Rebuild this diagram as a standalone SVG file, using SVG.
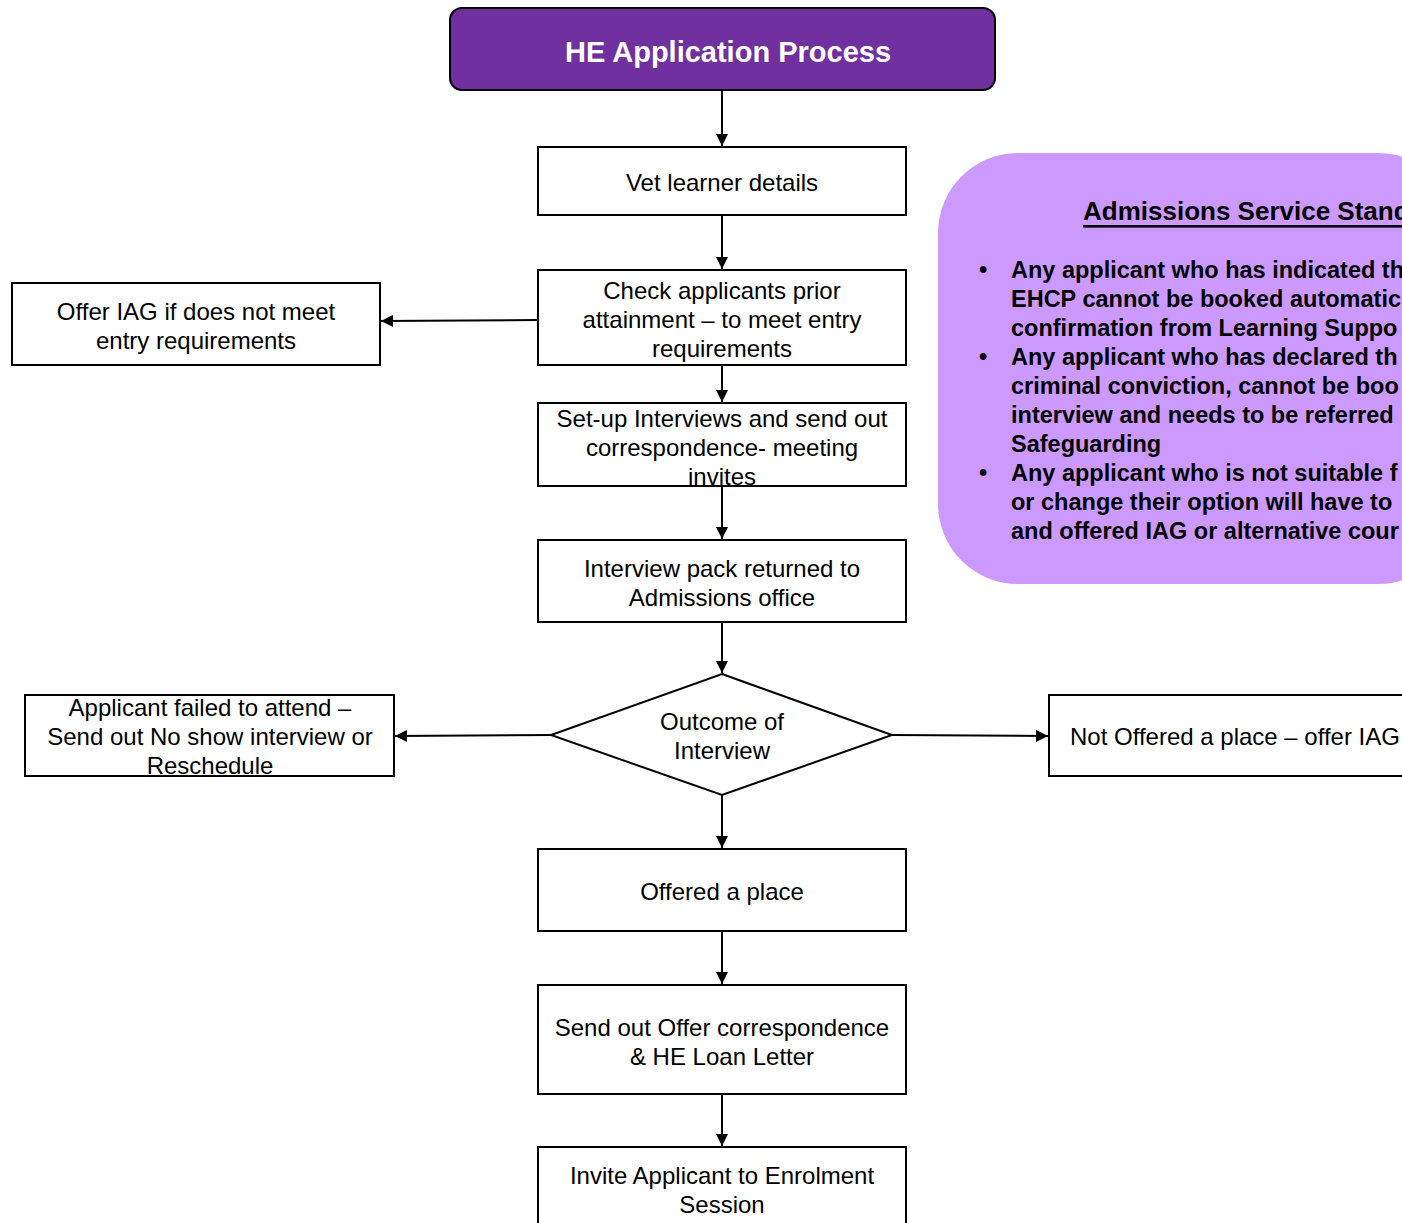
<svg xmlns="http://www.w3.org/2000/svg" width="1402" height="1223" viewBox="0 0 1402 1223">
<style>
.box{fill:#fff;stroke:#000;stroke-width:2}
.t{font-family:"Liberation Sans",Arial,sans-serif;font-size:24px;fill:#000;text-anchor:middle;dominant-baseline:central}
.b{font-family:"Liberation Sans",Arial,sans-serif;font-size:23.5px;font-weight:bold;fill:#000;dominant-baseline:central}
.c{stroke:#000;stroke-width:2;fill:none;marker-end:url(#ah)}
</style>
<defs>
<marker id="ah" viewBox="0 0 10 10" refX="10" refY="5" markerWidth="13" markerHeight="12" markerUnits="userSpaceOnUse" orient="auto">
<path d="M0,0 L10,5 L0,10 Z" fill="#000"/>
</marker>
</defs>
<rect width="1402" height="1223" fill="#fff"/>
<g id="title">
<rect x="450" y="8" width="545" height="82" rx="12" fill="#7030A0" stroke="#000" stroke-width="2"/>
<text x="728" y="52" class="t" style="font-size:29px;font-weight:bold;fill:#fff">HE Application Process</text>
</g>
<g id="standards">
<rect x="938" y="153" width="520" height="431" rx="80" fill="#CC99FF"/>
<text x="1083" y="211" class="b" style="font-size:26px;text-decoration:underline">Admissions Service Stand</text>
<text x="979" y="270" class="b">•</text>
<text x="1011" y="270" class="b">Any applicant who has indicated th</text>
<text x="1011" y="299" class="b">EHCP cannot be booked automatic</text>
<text x="1011" y="328" class="b">confirmation from Learning Suppo</text>
<text x="979" y="357" class="b">•</text>
<text x="1011" y="357" class="b">Any applicant who has declared th</text>
<text x="1011" y="386" class="b">criminal conviction, cannot be boo</text>
<text x="1011" y="415" class="b">interview and needs to be referred</text>
<text x="1011" y="444" class="b">Safeguarding</text>
<text x="979" y="473" class="b">•</text>
<text x="1011" y="473" class="b">Any applicant who is not suitable f</text>
<text x="1011" y="502" class="b">or change their option will have to</text>
<text x="1011" y="531" class="b">and offered IAG or alternative cour</text>
</g>
<g id="vet">
<rect class="box" x="538" y="147" width="368" height="68"/>
<text class="t" x="722" y="182">Vet learner details</text>
</g>
<g id="check">
<rect class="box" x="538" y="270" width="368" height="95"/>
<text class="t" x="722" y="290">Check applicants prior</text>
<text class="t" x="722" y="319">attainment – to meet entry</text>
<text class="t" x="722" y="348">requirements</text>
</g>
<g id="offeriag">
<rect class="box" x="12" y="283" width="368" height="82"/>
<text class="t" x="196" y="311">Offer IAG if does not meet</text>
<text class="t" x="196" y="340">entry requirements</text>
</g>
<g id="setup">
<rect class="box" x="538" y="403" width="368" height="83"/>
<text class="t" x="722" y="418">Set-up Interviews and send out</text>
<text class="t" x="722" y="447">correspondence- meeting</text>
<text class="t" x="722" y="476">invites</text>
</g>
<g id="pack">
<rect class="box" x="538" y="540" width="368" height="82"/>
<text class="t" x="722" y="568">Interview pack returned to</text>
<text class="t" x="722" y="597">Admissions office</text>
</g>
<g id="outcome">
<polygon points="722,674 892,735 722,795 551,735" fill="#fff" stroke="#000" stroke-width="2"/>
<text class="t" x="722" y="721">Outcome of</text>
<text class="t" x="722" y="750">Interview</text>
</g>
<g id="failed">
<rect class="box" x="25" y="695" width="369" height="81"/>
<text class="t" x="210" y="707">Applicant failed to attend –</text>
<text class="t" x="210" y="736">Send out No show interview or</text>
<text class="t" x="210" y="765">Reschedule</text>
</g>
<g id="notoffered">
<rect class="box" x="1049" y="695" width="380" height="81"/>
<text class="t" x="1070" y="736" style="text-anchor:start">Not Offered a place – offer IAG</text>
</g>
<g id="offered">
<rect class="box" x="538" y="849" width="368" height="82"/>
<text class="t" x="722" y="891">Offered a place</text>
</g>
<g id="sendout">
<rect class="box" x="538" y="985" width="368" height="109"/>
<text class="t" x="722" y="1027">Send out Offer correspondence</text>
<text class="t" x="722" y="1056">&amp; HE Loan Letter</text>
</g>
<g id="invite">
<rect class="box" x="538" y="1147" width="368" height="90"/>
<text class="t" x="722" y="1175">Invite Applicant to Enrolment</text>
<text class="t" x="722" y="1204">Session</text>
</g>
<g id="connectors">
<line class="c" x1="722" y1="90" x2="722" y2="146"/>
<line class="c" x1="722" y1="215" x2="722" y2="269"/>
<line class="c" x1="538" y1="320" x2="381" y2="321"/>
<line class="c" x1="722" y1="365" x2="722" y2="402"/>
<line class="c" x1="722" y1="486" x2="722" y2="539"/>
<line class="c" x1="722" y1="622" x2="722" y2="673"/>
<line class="c" x1="551" y1="735" x2="395" y2="736"/>
<line class="c" x1="892" y1="735" x2="1048" y2="736"/>
<line class="c" x1="722" y1="795" x2="722" y2="848"/>
<line class="c" x1="722" y1="931" x2="722" y2="984"/>
<line class="c" x1="722" y1="1094" x2="722" y2="1146"/>
</g>
</svg>
